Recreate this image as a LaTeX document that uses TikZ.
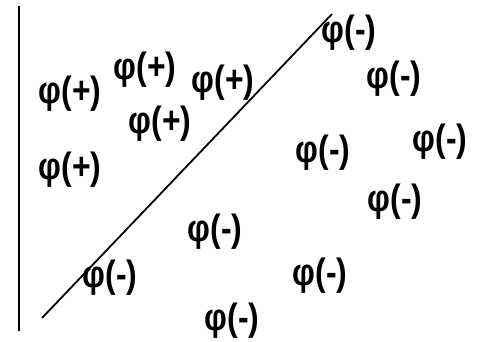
\documentclass[tikz,border=0pt]{standalone}
\usepackage{fontspec}
\setmainfont{Liberation Sans}
\usetikzlibrary{positioning}

\begin{document}
\begin{tikzpicture}[
  x=1pt, y=-1pt,
  every node/.style={inner sep=0pt, xscale=0.84, transform shape,
    font=\fontsize{38}{38}\selectfont\bfseries},
  plus/.style={},
  minus/.style={},
  bound/.style={line width=2.7pt},
  split/.style={line width=1.8pt}
]
\useasboundingbox (0,0) rectangle (490,342);

% Nodes
\node[plus] (plus_a) at (70,94) {φ(+)};
\node[plus] (plus_b) at (145,70) {φ(+)};
\node[plus] (plus_c) at (223,83) {φ(+)};
\node[plus] (plus_d) at (160,124) {φ(+)};
\node[plus] (plus_e) at (70,170) {φ(+)};

\node[minus] (minus_a) at (349,33) {φ(-)};
\node[minus] (minus_b) at (394,79) {φ(-)};
\node[minus] (minus_c) at (323,153) {φ(-)};
\node[minus] (minus_d) at (440,142) {φ(-)};
\node[minus] (minus_e) at (395,202) {φ(-)};
\node[minus] (minus_f) at (215,232) {φ(-)};
\node[minus] (minus_g) at (110,278) {φ(-)};
\node[minus] (minus_h) at (320,276) {φ(-)};
\node[minus] (minus_i) at (232,321) {φ(-)};

% Lines
\coordinate (axis_top) at (19,6);
\coordinate (axis_bot) at (19,331);
\coordinate (cut_lo) at (42,318);
\coordinate (cut_hi) at (332,14);
\draw[bound] (axis_top) -- (axis_bot);
\draw[split] (cut_lo) -- (cut_hi);

\end{tikzpicture}
\end{document}
